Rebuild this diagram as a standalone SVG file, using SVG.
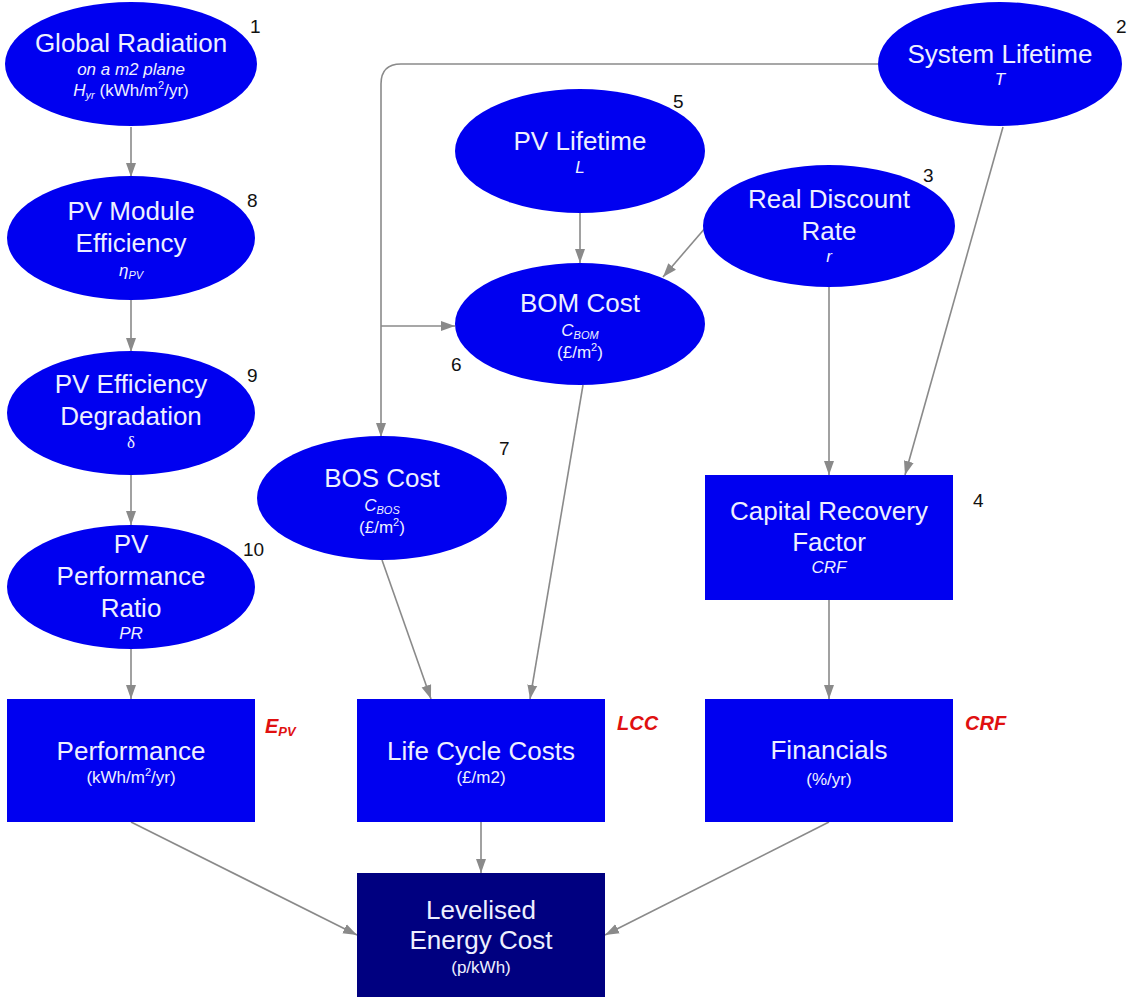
<svg xmlns="http://www.w3.org/2000/svg" width="1130" height="1003" viewBox="0 0 1130 1003">
<defs>
<marker id="arr" viewBox="0 0 14 10" refX="14" refY="5" markerWidth="14" markerHeight="11" markerUnits="userSpaceOnUse" orient="auto">
<path d="M0,0 L14,5 L0,10 z" fill="#8a8a8a"/>
</marker>
<style>
.n{fill:#0000f0;}
.d{fill:#000080;}
.t{font-family:"Liberation Sans",Arial,sans-serif;font-size:26px;fill:#eef0ff;text-anchor:middle;}
.s{font-family:"Liberation Sans",Arial,sans-serif;font-size:17px;fill:#eef0ff;text-anchor:middle;}
.i{font-style:italic;}
.sb{font-size:11px;}
.num{font-family:"Liberation Sans",Arial,sans-serif;font-size:19px;fill:#111;}
.red{font-family:"Liberation Sans",Arial,sans-serif;font-size:20px;fill:#e01010;font-weight:bold;font-style:italic;}
.c{fill:none;stroke:#8a8a8a;stroke-width:1.6;marker-end:url(#arr);}
</style>
</defs>
<rect width="1130" height="1003" fill="#ffffff"/>

<g id="connectors">
<path class="c" d="M131,127 V177"/>
<path class="c" d="M131,300 V352"/>
<path class="c" d="M131,475 V525"/>
<path class="c" d="M131,649 V699"/>
<path class="c" d="M878,64 H401 Q381,64 381,84 V437"/>
<path class="c" d="M381,326 H455"/>
<path class="c" d="M1003,127 L905,475"/>
<path class="c" d="M580,213 V263"/>
<path class="c" d="M706,227 L663,277"/>
<path class="c" d="M829,287 V475"/>
<path class="c" d="M583,385 L530,699"/>
<path class="c" d="M382,560 L431,699"/>
<path class="c" d="M829,600 V699"/>
<path class="c" d="M131,822 L357,935"/>
<path class="c" d="M481,822 V873"/>
<path class="c" d="M829,822 L605,935"/>
</g>

<g id="global-radiation">
<ellipse class="n" cx="131" cy="64" rx="126" ry="62"/>
<text class="t" x="131" y="52">Global Radiation</text>
<text class="s i" x="131" y="75">on a m2 plane</text>
<text class="s" x="131" y="96"><tspan class="i">H</tspan><tspan class="i sb" dy="3">yr</tspan><tspan dy="-3"> (kWh/m</tspan><tspan class="sb" dy="-7">2</tspan><tspan dy="7">/yr)</tspan></text>
<text class="num" x="250" y="33">1</text>
</g>

<g id="system-lifetime">
<ellipse class="n" cx="1000" cy="64" rx="122" ry="62"/>
<text class="t" x="1000" y="63">System Lifetime</text>
<text class="s i" x="1000" y="85">T</text>
<text class="num" x="1116" y="33">2</text>
</g>

<g id="pv-lifetime">
<ellipse class="n" cx="580" cy="151" rx="125" ry="62"/>
<text class="t" x="580" y="150">PV Lifetime</text>
<text class="s i" x="580" y="173">L</text>
<text class="num" x="673" y="108">5</text>
</g>

<g id="real-discount-rate">
<ellipse class="n" cx="829" cy="226" rx="126" ry="61"/>
<text class="t" x="829" y="208">Real Discount</text>
<text class="t" x="829" y="240">Rate</text>
<text class="s i" x="829" y="262">r</text>
<text class="num" x="923" y="182">3</text>
</g>

<g id="bom-cost">
<ellipse class="n" cx="580" cy="324" rx="125" ry="61"/>
<text class="t" x="580" y="312">BOM Cost</text>
<text class="s" x="580" y="336"><tspan class="i">C</tspan><tspan class="i sb" dy="3">BOM</tspan></text>
<text class="s" x="580" y="358">(£/m<tspan class="sb" dy="-7">2</tspan><tspan dy="7">)</tspan></text>
<text class="num" x="451" y="371">6</text>
</g>

<g id="pv-module-efficiency">
<ellipse class="n" cx="131" cy="238" rx="124" ry="62"/>
<text class="t" x="131" y="220">PV Module</text>
<text class="t" x="131" y="252">Efficiency</text>
<text class="s" x="131" y="276"><tspan class="i">η</tspan><tspan class="i sb" dy="3">PV</tspan></text>
<text class="num" x="247" y="207">8</text>
</g>

<g id="pv-efficiency-degradation">
<ellipse class="n" cx="131" cy="413" rx="124" ry="62"/>
<text class="t" x="131" y="393">PV Efficiency</text>
<text class="t" x="131" y="425">Degradation</text>
<text class="s" x="131" y="448" style="font-family:'Liberation Serif',serif">δ</text>
<text class="num" x="247" y="382">9</text>
</g>

<g id="pv-performance-ratio">
<ellipse class="n" cx="131" cy="587" rx="124" ry="62"/>
<text class="t" x="131" y="553">PV</text>
<text class="t" x="131" y="585">Performance</text>
<text class="t" x="131" y="617">Ratio</text>
<text class="s i" x="131" y="639">PR</text>
<text class="num" x="243" y="556">10</text>
</g>

<g id="bos-cost">
<ellipse class="n" cx="382" cy="498" rx="125" ry="62"/>
<text class="t" x="382" y="487">BOS Cost</text>
<text class="s" x="382" y="511"><tspan class="i">C</tspan><tspan class="i sb" dy="3">BOS</tspan></text>
<text class="s" x="382" y="533">(£/m<tspan class="sb" dy="-7">2</tspan><tspan dy="7">)</tspan></text>
<text class="num" x="499" y="455">7</text>
</g>

<g id="capital-recovery-factor">
<rect class="n" x="705" y="475" width="248" height="125"/>
<text class="t" x="829" y="520">Capital Recovery</text>
<text class="t" x="829" y="551">Factor</text>
<text class="s i" x="829" y="573">CRF</text>
<text class="num" x="973" y="507">4</text>
</g>

<g id="performance">
<rect class="n" x="7" y="699" width="248" height="123"/>
<text class="t" x="131" y="760">Performance</text>
<text class="s" x="131" y="783">(kWh/m<tspan class="sb" dy="-7">2</tspan><tspan dy="7">/yr)</tspan></text>
<text class="red" x="265" y="733">E<tspan style="font-size:13px" dy="3">PV</tspan></text>
</g>

<g id="life-cycle-costs">
<rect class="n" x="357" y="699" width="248" height="123"/>
<text class="t" x="481" y="760">Life Cycle Costs</text>
<text class="s" x="481" y="783">(£/m2)</text>
<text class="red" x="617" y="730">LCC</text>
</g>

<g id="financials">
<rect class="n" x="705" y="699" width="248" height="123"/>
<text class="t" x="829" y="759">Financials</text>
<text class="s" x="829" y="785">(%/yr)</text>
<text class="red" x="965" y="730">CRF</text>
</g>

<g id="levelised-energy-cost">
<rect class="d" x="357" y="873" width="248" height="124"/>
<text class="t" x="481" y="919">Levelised</text>
<text class="t" x="481" y="949">Energy Cost</text>
<text class="s" x="481" y="973">(p/kWh)</text>
</g>
</svg>
